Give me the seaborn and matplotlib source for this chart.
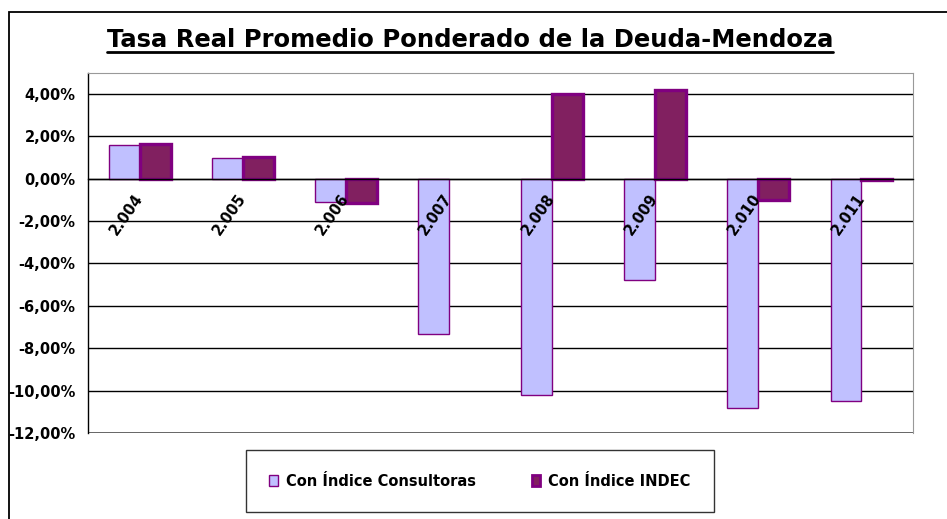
import numpy as np
import pandas as pd
import matplotlib
matplotlib.use("Agg")
import matplotlib.pyplot as plt
from matplotlib.patches import Patch, Rectangle
from matplotlib.lines import Line2D
from matplotlib.ticker import FuncFormatter, FixedLocator
import seaborn as sns

# ---- data ----
years = ["2.004", "2.005", "2.006", "2.007", "2.008", "2.009", "2.010", "2.011"]
consultoras = [1.58, 0.97, -1.12, -7.34, -10.2, -4.78, -10.8, -10.47]
indec = [1.64, 1.0, -1.15, np.nan, 3.98, 4.18, -0.99, -0.05]
series_names = ["Con Índice Consultoras", "Con Índice INDEC"]
title = "Tasa Real Promedio Ponderado de la Deuda-Mendoza"
yticks = [-12, -10, -8, -6, -4, -2, 0, 2, 4]

df = pd.DataFrame({
    "year": years * 2,
    "value": consultoras + indec,
    "serie": [series_names[0]] * len(years) + [series_names[1]] * len(years),
})

sns.set_style("white")
plt.rcParams["font.family"] = ["DejaVu Sans"]
plt.rcParams["text.color"] = "black"
plt.rcParams["xtick.labelcolor"] = "black"
plt.rcParams["ytick.labelcolor"] = "black"
plt.rcParams["xtick.color"] = "black"
plt.rcParams["ytick.color"] = "black"

fill_c = "#C0C0FF"
fill_i = "#812060"
edge = "#800080"

fig = plt.figure(figsize=(9.47, 5.19), dpi=100)
ax = fig.add_axes([88 / 947, 1 - 433 / 519, 825 / 947, (433 - 72.5) / 519])

sns.barplot(data=df, x="year", y="value", hue="serie", order=years,
            hue_order=series_names, palette=[fill_c, fill_i], width=0.6,
            gap=0, saturation=1, legend=False, ax=ax, zorder=2)

for bar in ax.containers[0]:
    bar.set_edgecolor(edge)
    bar.set_linewidth(1.0)
for bar in ax.containers[1]:
    bar.set_edgecolor(edge)
    bar.set_linewidth(2.4)

ax.set_axisbelow(False)
ax.set_ylim(-12, 5)
ax.set_xlim(-0.5, 7.5)
ax.set_yticks(yticks)
ax.yaxis.set_major_formatter(FuncFormatter(lambda v, p: f"{v:.2f}%".replace(".", ",")))
ax.tick_params(axis="y", which="major", direction="out", length=5, width=1,
               color="black", labelcolor="black", labelsize=10.5, pad=4)
for t in ax.get_yticklabels():
    t.set_fontweight("bold")

for y in yticks:
    ax.axhline(y, color="black", lw=1, zorder=1)

ax.spines["left"].set_color("black")
ax.spines["left"].set_linewidth(1)
ax.spines["top"].set_color("#999999")
ax.spines["right"].set_color("#999999")
ax.spines["bottom"].set_position(("data", 0))
ax.spines["bottom"].set_color("black")
ax.spines["bottom"].set_linewidth(1)
ax.axhline(-12, color="#555555", lw=1.2, zorder=1)

ax.set_xlabel("")
ax.set_ylabel("")
ax.xaxis.set_minor_locator(FixedLocator(np.arange(-0.5, 8, 1)))
ax.tick_params(axis="x", which="minor", direction="out", length=4, width=1, color="black")
ax.tick_params(axis="x", which="major", length=0, pad=12, labelcolor="black")
ax.set_xticks(range(len(years)))
ax.set_xticklabels(years, rotation=55, ha="right", va="center",
                   rotation_mode="anchor", fontsize=10.5, fontweight="bold",
                   color="black")

# legend
handles = [
    Patch(facecolor=fill_c, edgecolor=edge, linewidth=1.0),
    Patch(facecolor=fill_i, edgecolor=edge, linewidth=2.0),
]
leg = fig.legend(handles, series_names, loc="center",
                 bbox_to_anchor=(480 / 947, 1 - 481 / 519), ncol=2,
                 frameon=True, fancybox=False, shadow=False,
                 prop={"weight": "bold", "size": 10.5},
                 borderpad=1.6, columnspacing=3.8, handletextpad=0.55,
                 handlelength=0.6, handleheight=0.7)
leg.get_frame().set_edgecolor("black")
leg.get_frame().set_linewidth(1.0)
for t in leg.get_texts():
    t.set_color("black")

# title with underline
tt = fig.text(470 / 947, 1 - 40 / 519, title, ha="center", va="center",
              fontsize=17.5, fontweight="bold", color="black")
fig.canvas.draw()
bb = tt.get_window_extent()
uy = (519 - 52) / 519
fig.add_artist(Line2D([bb.x0 / 947, bb.x1 / 947], [uy, uy], transform=fig.transFigure,
                      color="black", lw=2))

# outer frame
fig.add_artist(Rectangle((9 / 947, -0.1), 1.2, 1.1 - 12 / 519, transform=fig.transFigure,
                         fill=False, edgecolor="black", lw=1.3))

fig.savefig("out.png", dpi=100)
